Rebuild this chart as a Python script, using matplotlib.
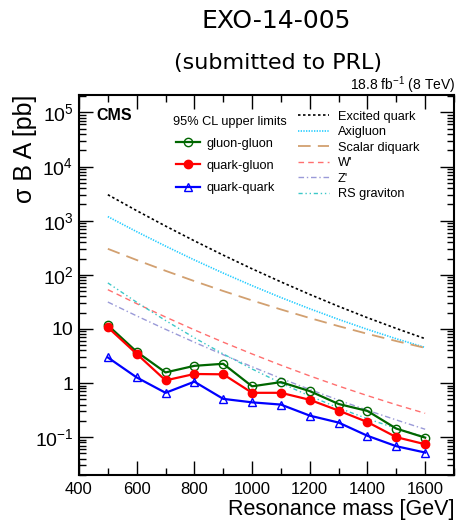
import matplotlib
matplotlib.use("Agg")
import matplotlib.pyplot as plt
from matplotlib.ticker import FixedLocator, LogLocator, NullFormatter, MultipleLocator
import numpy as np

# ---- data ----
mass = [500, 600, 700, 800, 900, 1000, 1100, 1200, 1300, 1400, 1500, 1600]
gluon_gluon = [11.7, 3.78, 1.57, 2.08, 2.27, 0.87, 1.04, 0.71, 0.41, 0.305, 0.144, 0.098]
quark_gluon = [10.7, 3.46, 1.12, 1.47, 1.45, 0.66, 0.66, 0.49, 0.31, 0.19, 0.100, 0.074]
quark_quark = [2.97, 1.27, 0.66, 1.06, 0.51, 0.44, 0.40, 0.25, 0.186, 0.106, 0.068, 0.052]

excited_quark = [3020, 1531, 796, 424, 231, 129, 74, 43.4, 26.1, 16.1, 10.2, 6.6]
axigluon = [1189, 626, 339, 188, 107.5, 63.1, 38.0, 23.6, 15.0, 9.8, 6.58, 4.54]
scalar_diquark = [302, 187.5, 118.6, 76.4, 50.2, 33.6, 22.9, 15.9, 11.25, 8.12, 5.96, 4.46]
w_prime = [53.1, 29.3, 16.6, 9.6, 5.69, 3.45, 2.14, 1.356, 0.880, 0.585, 0.397, 0.276]
z_prime = [31.4, 17.4, 9.83, 5.67, 3.33, 2.0, 1.22, 0.761, 0.484, 0.314, 0.208, 0.140]
rs_graviton = [70.8, 31.1, 14.3, 6.86, 3.45, 1.82, 1.0, 0.576, 0.347, 0.219, 0.145, 0.10]

ytick_vals = [1e-1, 1, 10, 1e2, 1e3, 1e4, 1e5]
ytick_labels = [r'$\mathregular{10^{-1}}$', '1', '10', r'$\mathregular{10^{2}}$',
                r'$\mathregular{10^{3}}$', r'$\mathregular{10^{4}}$', r'$\mathregular{10^{5}}$']

plt.rcParams['font.family'] = ['Liberation Sans', 'DejaVu Sans']
plt.rcParams['mathtext.fontset'] = 'custom'
plt.rcParams['mathtext.rm'] = 'Liberation Sans'
plt.rcParams['mathtext.it'] = 'Liberation Sans:italic'

fig = plt.figure(figsize=(4.57, 5.23), dpi=100)
ax = fig.add_axes([79/457, 48/523, 375/457, 380/523])

# theory curves
ax.plot(mass, excited_quark, color='black', lw=1.2, ls=(0, (1.5, 1.5)), label='Excited quark')
ax.plot(mass, axigluon, color='#22ccff', lw=1.2, ls=(0, (0.8, 0.8)), label='Axigluon')
ax.plot(mass, scalar_diquark, color='#d2a070', lw=1.3, ls=(0, (7, 4)), label='Scalar diquark')
ax.plot(mass, w_prime, color='#ff6f6f', lw=1.0, ls=(0, (4, 3)), label="W'")
ax.plot(mass, z_prime, color='#9a9ad8', lw=1.0, ls=(0, (4, 2, 1, 2)), label="Z'")
ax.plot(mass, rs_graviton, color='#3cc8c8', lw=1.0, ls=(0, (3, 2, 1, 2, 1, 2)), label='RS graviton')

# limits
l_gg, = ax.plot(mass, gluon_gluon, color='#006600', lw=1.6, marker='o', ms=6,
                mfc='none', mec='#006600', mew=1.0, label='gluon-gluon')
l_qg, = ax.plot(mass, quark_gluon, color='#ff0000', lw=1.6, marker='o', ms=6,
                mfc='#ff0000', mec='#ff0000', label='quark-gluon')
l_qq, = ax.plot(mass, quark_quark, color='#0000ff', lw=1.6, marker='^', ms=6,
                mfc='none', mec='#0000ff', mew=1.0, label='quark-quark')

ax.set_yscale('log')
ax.set_xlim(400, 1700)
ax.set_ylim(0.02, 2.1e5)

ax.xaxis.set_major_locator(MultipleLocator(200))
ax.xaxis.set_minor_locator(MultipleLocator(100))
ax.yaxis.set_major_locator(FixedLocator(ytick_vals))
ax.set_yticklabels(ytick_labels)
ax.yaxis.set_minor_locator(LogLocator(base=10, subs=np.arange(2, 10), numticks=20))
ax.yaxis.set_minor_formatter(NullFormatter())

ax.tick_params(axis='both', which='both', direction='in', top=True, right=True, width=1.0)
ax.tick_params(axis='both', which='major', length=10)
ax.tick_params(axis='both', which='minor', length=5)
ax.tick_params(axis='x', which='major', labelsize=12, pad=5)
ax.tick_params(axis='y', which='major', labelsize=14, pad=4)
for s in ax.spines.values():
    s.set_linewidth(1.5)

ax.set_xlabel('Resonance mass [GeV]', fontsize=15.5, ha='right')
ax.xaxis.set_label_coords(1.0, -0.062)
ax.set_ylabel('σ B A [pb]', fontsize=18, ha='right')
ax.yaxis.set_label_coords(-0.112, 1.0)

# texts
ax.text(0.046, 0.945, 'CMS', transform=ax.transAxes, fontsize=11.5, fontweight='bold',
        ha='left', va='center')
ax.text(0.251, 0.93, '95% CL upper limits', transform=ax.transAxes, fontsize=9.2,
        ha='left', va='center')
fig.text(455/457, 1 - 85/523, r'18.8 fb$^{\mathregular{-1}}$ (8 TeV)', fontsize=10,
         ha='right', va='center')
fig.text(276/457, 1 - 21/523, 'EXO-14-005', fontsize=18, ha='center', va='center',
         family='DejaVu Sans')
fig.text(278/457, 1 - 63/523, '(submitted to PRL)', fontsize=16, ha='center', va='center',
         family='DejaVu Sans')

# legends
h_th, lab_th = ax.get_legend_handles_labels()
leg1 = ax.legend([l_gg, l_qg, l_qq], ['gluon-gluon', 'quark-gluon', 'quark-quark'],
                 loc='upper left', bbox_to_anchor=(0.259, 0.888), frameon=False,
                 fontsize=9.2, handlelength=1.9, handletextpad=0.45, labelspacing=0.8,
                 borderpad=0, borderaxespad=0)
ax.add_artist(leg1)
ax.legend(h_th[:6], lab_th[:6], loc='upper left', bbox_to_anchor=(0.584, 0.959),
          frameon=False, fontsize=9.2, handlelength=2.4, handletextpad=0.7,
          labelspacing=0.28, borderpad=0, borderaxespad=0)

fig.savefig('out.png', dpi=100)
